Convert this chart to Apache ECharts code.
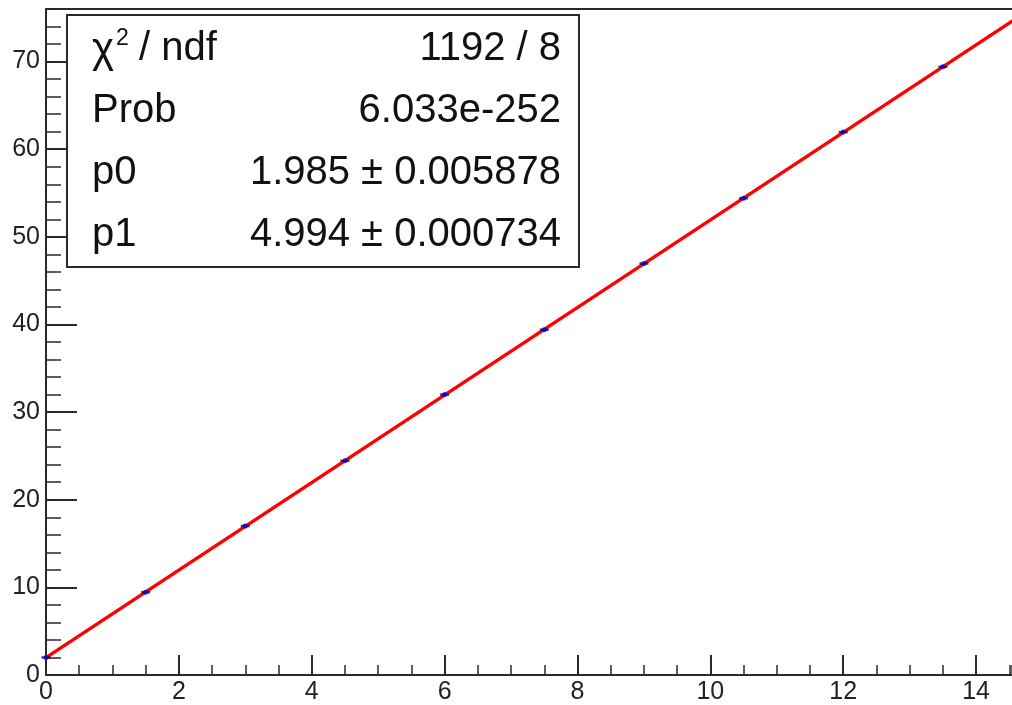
<!DOCTYPE html>
<html>
<head>
<meta charset="utf-8">
<script src="https://cdn.jsdelivr.net/npm/echarts@6/dist/echarts.min.js"></script>
<style>
html,body{margin:0;padding:0;background:#fff;}
#c{width:1012px;height:705px;}
</style>
</head>
<body>
<div id="c"></div>
<script>
// ---- data ----
const pointX = [0, 1.5, 3, 4.5, 6, 7.5, 9, 10.5, 12, 13.5];
const pointY = [2.0, 9.45, 17.0, 24.45, 32.0, 39.4, 46.95, 54.4, 61.95, 69.4];
const fitX = [0, 14.6];
const fitY = [1.985, 74.9];
const xTickLabels = [0, 2, 4, 6, 8, 10, 12, 14];
const yTickLabels = [0, 10, 20, 30, 40, 50, 60, 70];
const statNames = ['Prob', 'p0', 'p1'];
const statValues = ['6.033e-252', '1.985 \u00b1 0.005878', '4.994 \u00b1 0.000734'];
const chiLabel = '\u03c7';
const chiValue = '1192 / 8';

const X_MIN = 0, X_MAX = 14.54, Y_MIN = 0, Y_MAX = 76;
const AX = '#2a2a2a';
const FONT = 'Liberation Sans, Arial, Helvetica, sans-serif';

const chart = echarts.init(document.getElementById('c'), null, {renderer: 'canvas'});

const points = pointX.map((x, i) => [x, pointY[i]]);
const fit = fitX.map((x, i) => [x, fitY[i]]);

function fmtIn(list) {
  return v => (list.indexOf(Math.round(v * 1000) / 1000) >= 0 ? String(v) : '');
}

const boxL = 67, boxT = 15, boxW = 512, boxH = 252;
const textL = 92, textR = 561;
const rowY = [111, 173, 235];
const SF = '40px ' + FONT;

const graphics = [
  {type: 'rect', shape: {x: boxL, y: boxT, width: boxW, height: boxH},
   style: {fill: '#fff', stroke: AX, lineWidth: 2}, z: 100},
  {type: 'text', x: textL, y: 50, style: {text: chiLabel, font: '42px ' + FONT, fill: '#111', textVerticalAlign: 'middle'}, z: 101},
  {type: 'text', x: 116, y: 39, style: {text: '2', font: '23px ' + FONT, fill: '#111', textVerticalAlign: 'middle'}, z: 101},
  {type: 'text', x: 128, y: 49, style: {text: ' / ndf', font: SF, fill: '#111', textVerticalAlign: 'middle'}, z: 101},
  {type: 'text', x: textR, y: 49, style: {text: chiValue, font: SF, fill: '#111', textAlign: 'right', textVerticalAlign: 'middle'}, z: 101}
];
statNames.forEach((n, i) => {
  graphics.push({type: 'text', x: textL, y: rowY[i], style: {text: n, font: SF, fill: '#111', textVerticalAlign: 'middle'}, z: 101});
  graphics.push({type: 'text', x: textR, y: rowY[i], style: {text: statValues[i], font: SF, fill: '#111', textAlign: 'right', textVerticalAlign: 'middle'}, z: 101});
});

const option = {
  animation: false,
  backgroundColor: '#fff',
  grid: {left: 46, top: 9, right: 0, bottom: 28, containLabel: false},
  xAxis: [
    {type: 'value', position: 'bottom', min: X_MIN, max: X_MAX, interval: 2,
     axisLine: {show: true, lineStyle: {color: AX, width: 2}},
     axisTick: {show: true, inside: true, length: 20, lineStyle: {color: AX, width: 2}},
     axisLabel: {show: true, margin: 5, showMaxLabel: false, color: '#222', fontSize: 25, fontFamily: FONT, formatter: fmtIn(xTickLabels)},
     splitLine: {show: false}},
    {type: 'value', position: 'bottom', min: X_MIN, max: X_MAX, interval: 0.5,
     axisLine: {show: false},
     axisTick: {show: true, inside: true, length: 10, lineStyle: {color: AX, width: 1.5}},
     axisLabel: {show: false}, splitLine: {show: false}},
    {type: 'value', position: 'top', min: X_MIN, max: X_MAX,
     axisLine: {show: true, lineStyle: {color: AX, width: 2}},
     axisTick: {show: false}, axisLabel: {show: false}, splitLine: {show: false}}
  ],
  yAxis: [
    {type: 'value', position: 'left', min: Y_MIN, max: Y_MAX, interval: 10,
     axisLine: {show: true, lineStyle: {color: AX, width: 2}},
     axisTick: {show: true, inside: true, length: 31, lineStyle: {color: AX, width: 2}},
     axisLabel: {show: true, margin: 6, showMaxLabel: false, color: '#222', fontSize: 25, fontFamily: FONT, formatter: fmtIn(yTickLabels)},
     splitLine: {show: false}},
    {type: 'value', position: 'left', min: Y_MIN, max: Y_MAX, interval: 2,
     axisLine: {show: false},
     axisTick: {show: true, inside: true, length: 15, lineStyle: {color: AX, width: 1.5}},
     axisLabel: {show: false}, splitLine: {show: false}}
  ],
  series: [
    {type: 'line', name: 'fit', xAxisIndex: 0, yAxisIndex: 0, data: fit, showSymbol: false, clip: true,
     lineStyle: {color: '#ff0000', width: 3.5}, z: 3},
    {type: 'scatter', name: 'errx', xAxisIndex: 0, yAxisIndex: 0, data: points, symbol: 'rect', symbolSize: [9, 2.5],
     itemStyle: {color: '#111'}, z: 4},
    {type: 'scatter', name: 'data', xAxisIndex: 0, yAxisIndex: 0, data: points, symbol: 'circle', symbolSize: 5,
     itemStyle: {color: '#0000ff'}, z: 5}
  ],
  graphic: graphics
};
chart.setOption(option);
</script>
</body>
</html>
